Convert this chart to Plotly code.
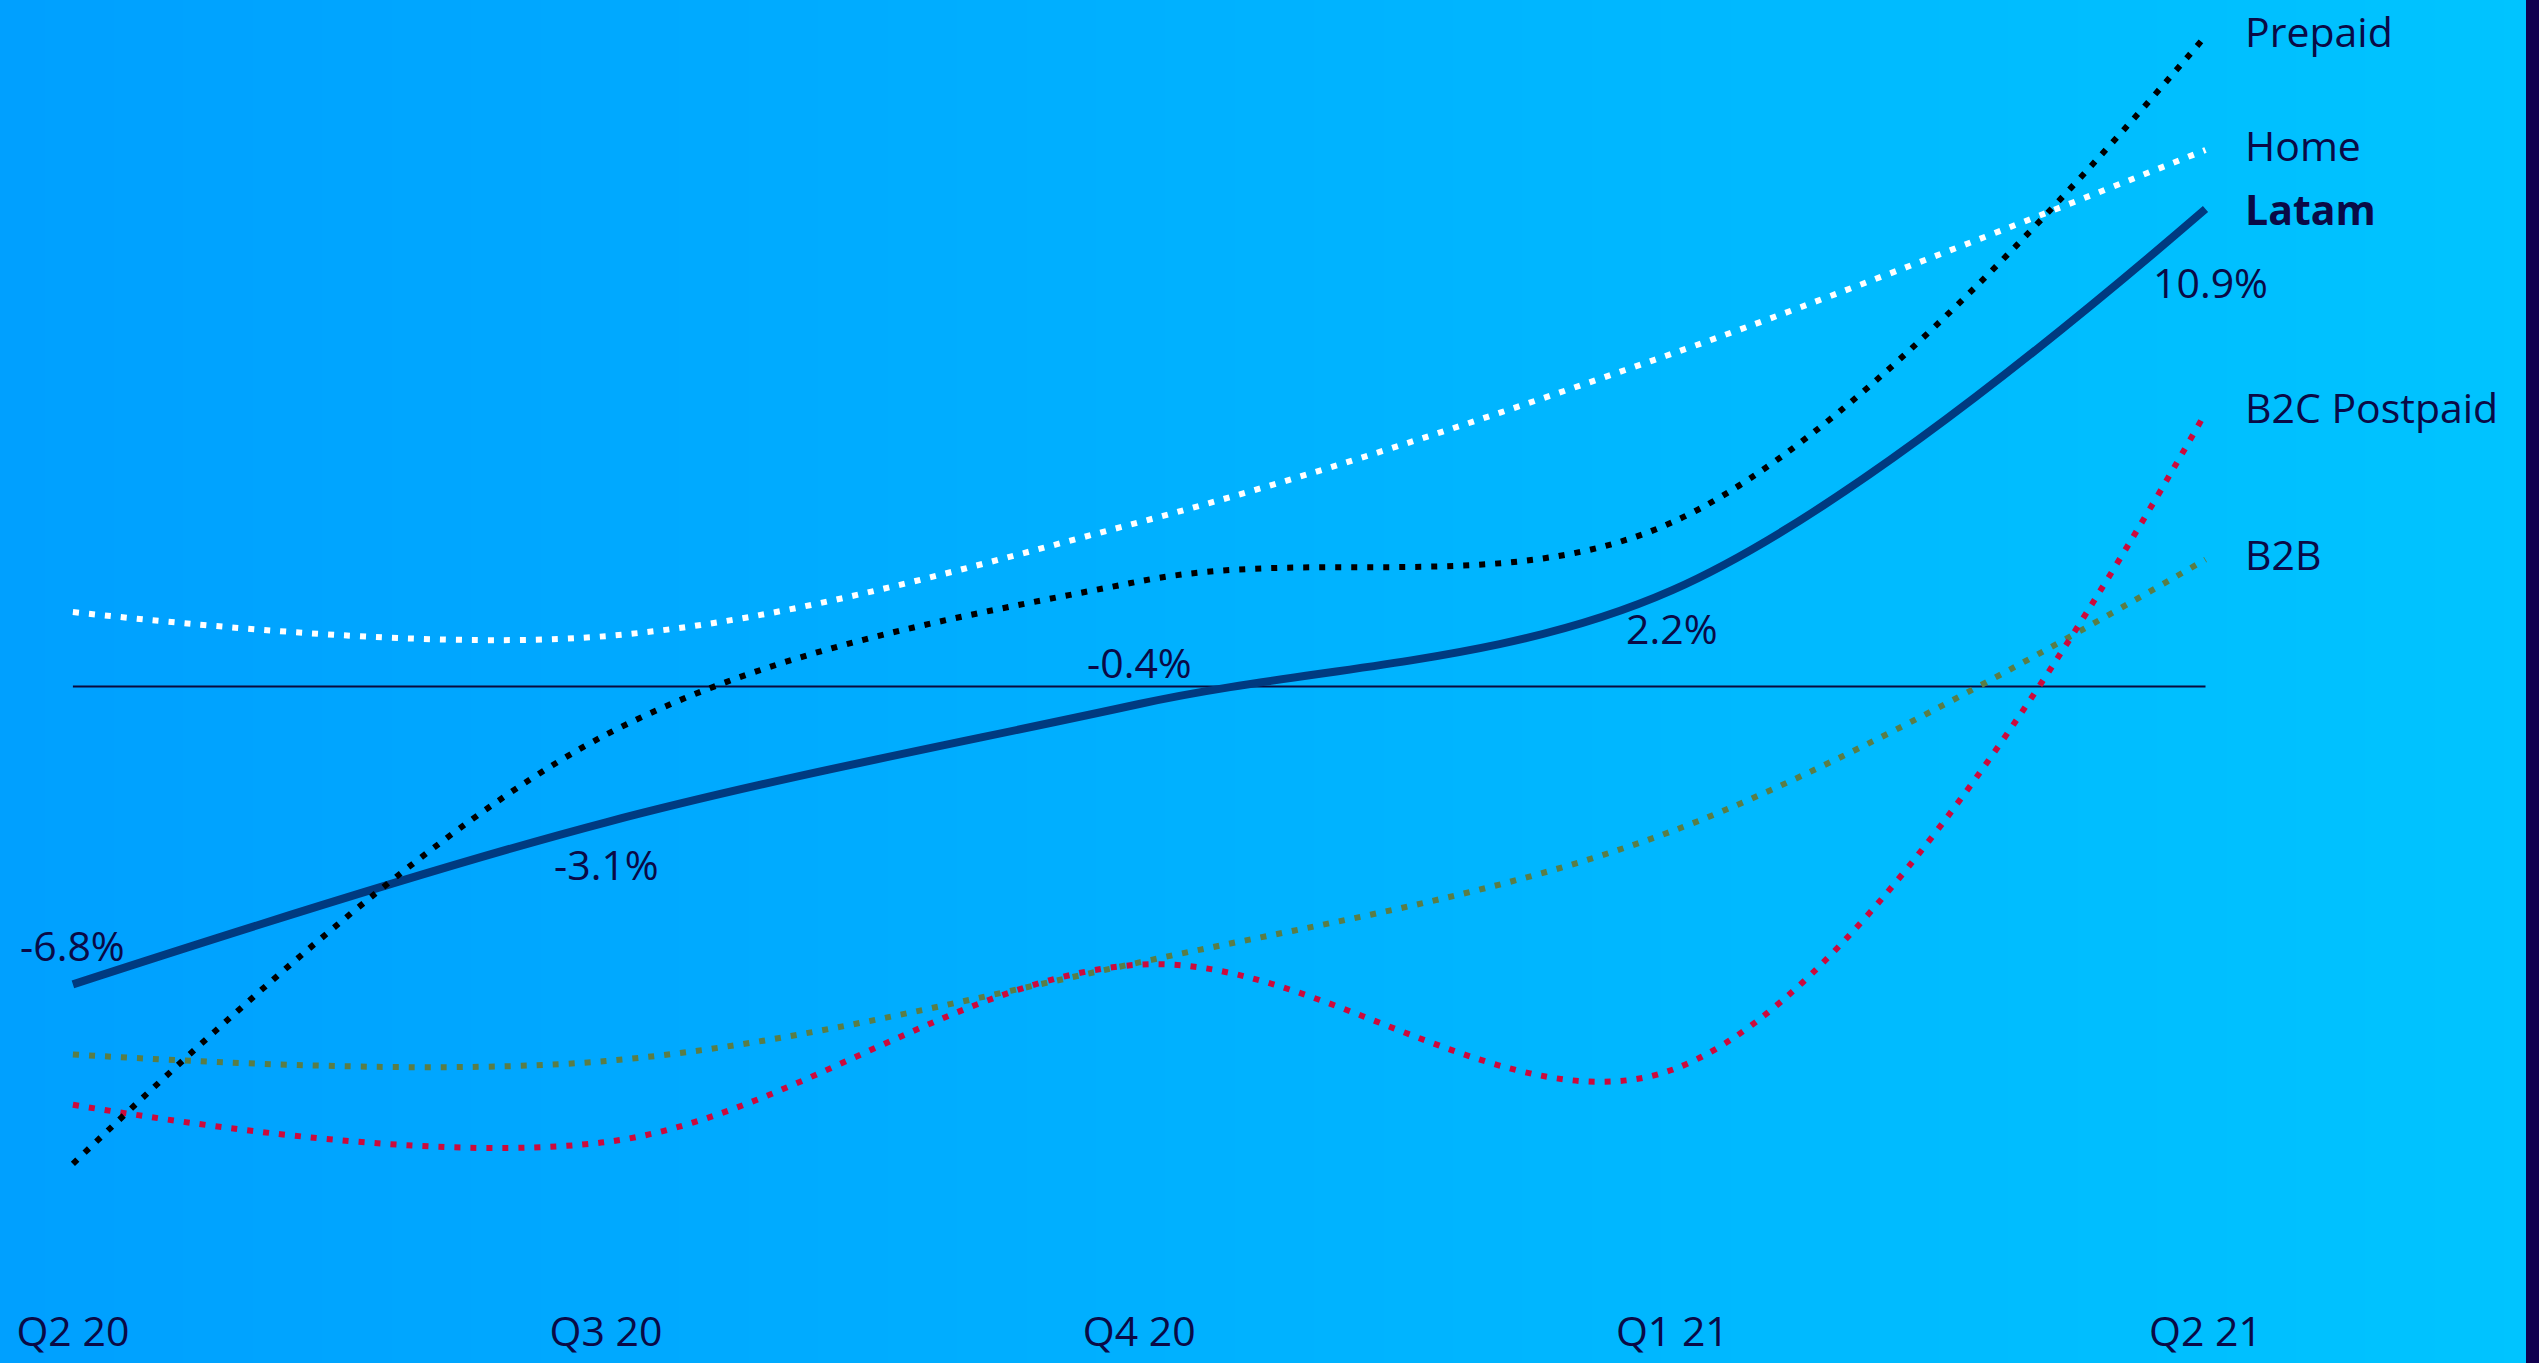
import base64, struct, zlib
import plotly.graph_objects as go

# ---------------- data ----------------
quarters = ["Q2 20", "Q3 20", "Q4 20", "Q1 21", "Q2 21"]
latam = [-6.8, -3.1, -0.4, 2.2, 10.9]
prepaid = [-10.9, -1.1, 2.4, 3.75, 14.85]
home = [1.7, 1.15, 3.75, 7.6, 12.25]
b2c_postpaid = [-9.55, -10.4, -6.35, -8.75, 6.25]
b2b = [-8.4, -8.55, -6.3, -3.3, 2.9]
latam_labels = ["-6.8%", "-3.1%", "-0.4%", "2.2%", "10.9%"]

series = [
    ("B2B", b2b, "#5A7D46"),
    ("B2C Postpaid", b2c_postpaid, "#CC0A3C"),
    ("Home", home, "#FFFFFF"),
    ("Prepaid", prepaid, "#000000"),
]

# ---------------- geometry / style ----------------
W, H = 2539, 1363
TEXT = "#0A0A46"
FONT = "Open Sans"
FS = 41

x_first_px, x_last_px = 72.9, 2205.5
zero_px, px_per_pct = 686.5, 43.8
x_pad = 0.1
y_lo, y_hi = -14.1, 15.6

unit = (x_last_px - x_first_px) / (len(quarters) - 1)
xd0 = (x_first_px - x_pad * unit) / W
xd1 = (x_last_px + x_pad * unit) / W
yd0 = 1 - (zero_px - px_per_pct * y_lo) / H
yd1 = 1 - (zero_px - px_per_pct * y_hi) / H


def gradient_png(c0, c1, w=256, h=2):
    row = bytearray([0])
    for i in range(w):
        t = i / (w - 1)
        row += bytes(int(round(c0[k] + (c1[k] - c0[k]) * t)) for k in range(3))
    raw = bytes(row) * h

    def chunk(tag, data):
        return (struct.pack(">I", len(data)) + tag + data
                + struct.pack(">I", zlib.crc32(tag + data) & 0xFFFFFFFF))

    png = (b"\x89PNG\r\n\x1a\n"
           + chunk(b"IHDR", struct.pack(">IIBBBBB", w, h, 8, 2, 0, 0, 0))
           + chunk(b"IDAT", zlib.compress(raw))
           + chunk(b"IEND", b""))
    return "data:image/png;base64," + base64.b64encode(png).decode()


fig = go.Figure()

# zero line
fig.add_trace(go.Scatter(x=[quarters[0], quarters[-1]], y=[0, 0], mode="lines",
                         line=dict(color="#0A0A3C", width=2), hoverinfo="skip"))

# Latam solid
fig.add_trace(go.Scatter(x=quarters, y=latam, mode="lines", name="Latam",
                         line=dict(color="#003A80", width=8, shape="spline", smoothing=1)))

for name, vals, col in series:
    fig.add_trace(go.Scatter(x=quarters, y=vals, mode="lines", name=name,
                             line=dict(color=col, width=6, dash="6px,10px",
                                       shape="spline", smoothing=1)))

annotations = []
label_shift = [39, -42, 42, -38, -73]
label_xshift = [0, 0, 0, 0, 5]
for q, v, t, ys, xs in zip(quarters, latam, latam_labels, label_shift, label_xshift):
    annotations.append(dict(x=q, y=v, text=t, showarrow=False, yshift=ys, xshift=xs,
                            font=dict(family=FONT, size=FS, color=TEXT)))

end_labels = [("Prepaid", prepaid[-1], False, 5), ("Home", home[-1], False, 5),
              ("Latam", latam[-1], True, 0), ("B2C Postpaid", b2c_postpaid[-1], False, 6),
              ("B2B", b2b[-1], False, 5)]
for name, v, bold, ys in end_labels:
    annotations.append(dict(x=quarters[-1], y=v, text=f"<b>{name}</b>" if bold else name,
                            showarrow=False, xanchor="left", xshift=37, yshift=ys,
                            font=dict(family=FONT, size=FS, color=TEXT)))

fig.update_layout(
    width=W, height=H,
    margin=dict(l=0, r=0, t=0, b=0),
    paper_bgcolor="#00B0FF",
    plot_bgcolor="rgba(0,0,0,0)",
    showlegend=False,
    hovermode=False,
    annotations=annotations,
    images=[dict(source=gradient_png((0, 160, 255), (0, 196, 255)), xref="paper", yref="paper",
                 x=0, y=1, sizex=1, sizey=1, sizing="stretch", layer="below",
                 xanchor="left", yanchor="top")],
    shapes=[dict(type="rect", xref="paper", yref="paper", x0=2526 / W, x1=1, y0=0, y1=1,
                 fillcolor="#10004F", line=dict(width=0), layer="above")],
    xaxis=dict(domain=[xd0, xd1], type="category", categoryorder="array",
               categoryarray=quarters, range=[-x_pad, len(quarters) - 1 + x_pad],
               showgrid=False, zeroline=False, showline=False, ticks="",
               tickfont=dict(family=FONT, size=FS, color=TEXT), automargin=False),
    yaxis=dict(domain=[yd0, yd1], range=[y_lo, y_hi], showgrid=False, zeroline=False,
               showline=False, showticklabels=False, ticks="", automargin=False),
)

fig.write_html("out.html")
